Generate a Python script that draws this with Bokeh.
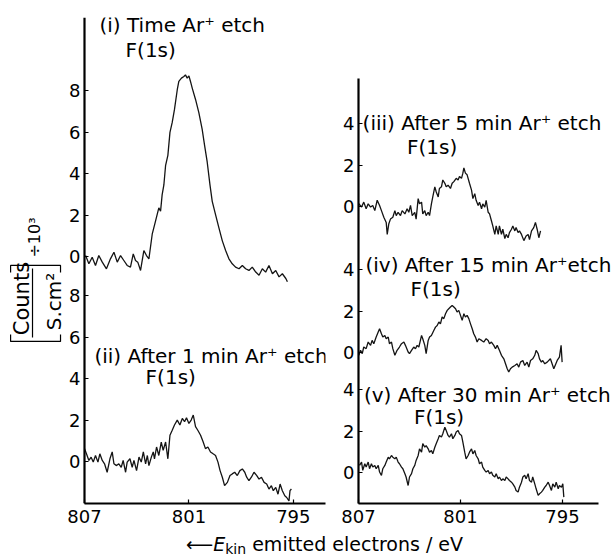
import math
from bokeh.plotting import figure
from bokeh.models import Range1d, FixedTicker, CustomJSTickFormatter, Label, Div
from bokeh.layouts import row, column
from bokeh.embed import file_html
from bokeh.resources import INLINE

FONT = "DejaVu Sans"

# ---------------- data ----------------
x_ticks = [807, 801, 795]
y_ticks_left = [0, 2, 4, 6, 8]
y_ticks_right = [0, 2, 4]

# stacking offsets of each spectrum (in counts units)
offset_i = 9.9
offset_ii = 0.0
offset_iii = 12.85
offset_iv = 5.8
offset_v = 0.0

# (i) Time Ar+ etch
i_ev = [806.94, 806.75, 806.56, 806.37, 806.18, 805.98, 805.74, 805.51, 805.31, 805.12,
        804.93, 804.74, 804.55, 804.36, 804.20, 804.07, 803.94, 803.78, 803.59, 803.44,
        803.30, 803.11, 802.92, 802.73, 802.63, 802.54, 802.44, 802.34, 802.21, 802.09,
        801.96, 801.83, 801.67, 801.58, 801.43, 801.29, 801.20, 801.10, 801.00, 800.91,
        800.81, 800.62, 800.43, 800.24, 800.10, 799.95, 799.79, 799.66, 799.47, 799.28,
        799.08, 798.89, 798.70, 798.51, 798.32, 798.12, 797.93, 797.74, 797.55, 797.36,
        797.16, 796.97, 796.78, 796.59, 796.40, 796.20, 796.01, 795.82, 795.63, 795.43,
        795.34]
i_val = [0.05, -0.35, -0.03, -0.43, 0.05, -0.27, -0.59, -0.11, 0.21, -0.27,
         0.05, -0.19, -0.43, -0.51, 0.13, -0.19, -0.27, -0.67, 0.29, 0.05,
         -0.11, 1.08, 1.71, 2.35, 2.19, 2.98, 3.46, 4.41, 4.89, 6.00,
         6.48, 7.11, 8.06, 8.46, 8.62, 8.70, 8.78, 8.62, 8.73, 8.46,
         8.14, 7.59, 6.95, 6.16, 5.37, 4.57, 3.46, 2.67, 2.03, 1.40,
         0.76, 0.29, -0.11, -0.35, -0.51, -0.59, -0.43, -0.59, -0.67, -0.51,
         -0.75, -0.90, -0.59, -0.75, -0.43, -0.83, -0.67, -0.98, -0.83, -1.06,
         -1.22]

# (ii) After 1 min Ar+ etch
ii_ev = [807.00, 806.89, 806.75, 806.62, 806.50, 806.37, 806.23, 806.12, 805.98, 805.85,
         805.70, 805.54, 805.41, 805.31, 805.16, 805.03, 804.89, 804.78, 804.64, 804.55,
         804.39, 804.26, 804.16, 804.01, 803.87, 803.74, 803.62, 803.49, 803.39, 803.30,
         803.16, 803.05, 802.98, 802.86, 802.73, 802.59, 802.48, 802.34, 802.21, 802.09,
         801.96, 801.83, 801.67, 801.52, 801.38, 801.25, 801.14, 801.00, 800.87, 800.75,
         800.62, 800.49, 800.33, 800.18, 800.05, 799.91, 799.76, 799.61, 799.47, 799.33,
         799.21, 799.08, 798.95, 798.79, 798.64, 798.51, 798.37, 798.22, 798.07, 797.93,
         797.79, 797.68, 797.55, 797.41, 797.26, 797.10, 796.97, 796.83, 796.68, 796.53,
         796.40, 796.26, 796.15, 796.01, 795.88, 795.76, 795.63, 795.49, 795.38, 795.25,
         795.19, 795.11]
ii_val = [0.62, 0.37, 0.05, 0.21, -0.03, 0.29, -0.03, 0.37, 0.05, -0.11,
          -0.52, 0.13, 0.46, -0.11, -0.20, -0.11, -0.28, 0.05, -0.52, -0.03,
          0.13, -0.28, 0.05, -0.44, 0.21, -0.03, 0.46, -0.11, 0.29, -0.20,
          0.21, 0.46, 0.13, 0.70, 0.29, 0.94, 0.54, 0.94, 0.13, 1.27,
          1.51, 1.76, 2.00, 1.76, 2.08, 1.92, 2.11, 1.84, 2.00, 2.24,
          1.68, 1.51, 1.27, 0.94, 0.62, 0.70, 0.46, 0.37, 0.29, -0.03,
          -0.44, -0.76, -1.17, -1.01, -0.68, -0.60, -0.52, -0.68, -0.44, -0.36,
          -0.52, -0.76, -0.93, -0.76, -0.52, -0.68, -0.85, -0.76, -1.01, -1.09,
          -1.33, -1.17, -1.41, -1.25, -1.58, -1.09, -1.41, -1.66, -1.74, -1.90,
          -1.41, -1.33]

# (iii) After 5 min Ar+ etch
iii_ev = [806.98, 806.82, 806.69, 806.55, 806.43, 806.29, 806.16, 806.04, 805.90, 805.76,
          805.65, 805.51, 805.37, 805.31, 805.22, 805.12, 804.98, 804.86, 804.78, 804.67,
          804.53, 804.43, 804.27, 804.14, 804.04, 803.94, 803.84, 803.69, 803.61, 803.49,
          803.41, 803.29, 803.22, 803.10, 803.02, 802.90, 802.82, 802.71, 802.63, 802.51,
          802.43, 802.31, 802.24, 802.12, 802.04, 801.92, 801.84, 801.73, 801.59, 801.49,
          801.39, 801.25, 801.14, 801.06, 800.94, 800.86, 800.80, 800.71, 800.61, 800.47,
          800.35, 800.27, 800.16, 800.08, 799.96, 799.88, 799.76, 799.69, 799.57, 799.49,
          799.37, 799.29, 799.18, 799.10, 798.98, 798.90, 798.78, 798.71, 798.59, 798.51,
          798.39, 798.31, 798.20, 798.12, 798.00, 797.92, 797.80, 797.73, 797.61, 797.53,
          797.41, 797.27, 797.14, 797.02, 796.94, 796.82, 796.69, 796.59, 796.49, 796.39,
          796.29]
iii_val = [0.13, -0.03, 0.21, -0.11, 0.13, -0.03, 0.05, -0.20, 0.30, 0.05,
           -0.20, -0.52, -0.77, -1.35, -0.85, -0.61, -0.52, -0.20, -0.44, -0.28,
           -0.44, -0.20, -0.36, -0.11, -0.28, 0.05, -0.44, -0.28, -0.61, 0.38,
           0.13, 0.21, -0.36, -0.20, -0.44, -0.28, -0.44, 0.13, 0.46, 0.95,
           0.71, 0.46, 0.87, 0.95, 1.28, 1.12, 0.95, 1.03, 0.87, 1.12,
           1.20, 1.36, 1.28, 1.45, 1.36, 1.61, 1.86, 1.61, 1.53, 1.12,
           0.79, 0.38, 0.62, 0.30, 0.05, 0.21, -0.11, 0.13, -0.03, 0.30,
           -0.28, -0.36, -0.69, -0.94, -1.35, -0.94, -1.35, -0.94, -1.35, -1.10,
           -1.55, -1.35, -1.51, -1.26, -1.10, -0.94, -1.18, -1.02, -1.26, -1.18,
           -1.35, -1.65, -1.43, -1.35, -1.60, -1.18, -1.02, -0.77, -1.10, -1.51,
           -1.18]

# (iv) After 15 min Ar+ etch
iv_ev = [806.98, 806.88, 806.78, 806.69, 806.55, 806.43, 806.29, 806.20, 806.10, 805.96,
         805.84, 805.76, 805.65, 805.57, 805.45, 805.37, 805.25, 805.18, 805.06, 804.98,
         804.86, 804.73, 804.59, 804.47, 804.33, 804.24, 804.08, 804.00, 803.88, 803.75,
         803.65, 803.55, 803.45, 803.29, 803.22, 803.10, 803.02, 802.90, 802.82, 802.71,
         802.57, 802.47, 802.37, 802.27, 802.18, 802.08, 801.98, 801.88, 801.78, 801.69,
         801.59, 801.49, 801.39, 801.29, 801.20, 801.10, 801.00, 800.90, 800.80, 800.71,
         800.61, 800.51, 800.41, 800.31, 800.22, 800.12, 800.02, 799.92, 799.76, 799.63,
         799.49, 799.37, 799.29, 799.18, 799.04, 798.94, 798.84, 798.71, 798.59, 798.45,
         798.35, 798.25, 798.16, 798.06, 797.96, 797.80, 797.67, 797.57, 797.47, 797.33,
         797.22, 797.08, 796.98, 796.88, 796.75, 796.63, 796.55, 796.43, 796.35, 796.24,
         796.16, 796.04, 795.90, 795.71, 795.51, 795.31, 795.18, 795.08, 795.02]
iv_val = [-0.14, 0.10, -0.06, 0.26, 0.18, 0.50, 0.34, 0.58, 0.42, 0.74,
          0.98, 1.14, 0.90, 0.74, 0.82, 0.66, 0.74, 0.42, 0.50, 0.18,
          -0.14, 0.10, 0.26, 0.42, 0.50, 0.34, 0.02, -0.06, 0.10, 0.26,
          0.18, 0.34, 0.26, 0.82, 0.66, 0.34, -0.06, 0.58, 0.74, 0.82,
          1.06, 1.22, 1.30, 1.47, 1.38, 1.71, 1.63, 1.87, 2.03, 2.11,
          2.19, 2.27, 2.19, 2.11, 1.95, 2.03, 1.79, 1.55, 1.87, 1.71,
          1.79, 1.63, 1.38, 1.14, 0.90, 0.74, 0.50, 0.66, 0.58, 0.50,
          0.66, 0.58, 0.42, 0.50, 0.34, 0.18, 0.34, 0.10, -0.14, -0.31,
          -0.55, -0.79, -0.95, -0.79, -0.71, -0.63, -0.55, -0.71, -0.47, -0.39,
          -0.63, -0.47, -0.71, -0.39, -0.31, -0.14, 0.10, -0.06, -0.31, -0.47,
          -0.39, -0.55, -0.47, -0.31, -0.79, -0.39, -0.23, 0.34, -0.47]

# (v) After 30 min Ar+ etch
v_ev = [806.94, 806.82, 806.75, 806.63, 806.55, 806.43, 806.35, 806.24, 806.16, 806.04,
        805.96, 805.84, 805.76, 805.65, 805.57, 805.45, 805.37, 805.25, 805.18, 805.06,
        804.98, 804.86, 804.78, 804.67, 804.59, 804.47, 804.39, 804.27, 804.20, 804.08,
        804.00, 803.88, 803.80, 803.69, 803.61, 803.49, 803.41, 803.29, 803.22, 803.10,
        803.02, 802.90, 802.82, 802.71, 802.63, 802.51, 802.43, 802.31, 802.24, 802.12,
        802.04, 801.92, 801.84, 801.73, 801.65, 801.53, 801.45, 801.33, 801.25, 801.14,
        801.06, 800.94, 800.86, 800.75, 800.67, 800.55, 800.47, 800.35, 800.27, 800.16,
        800.08, 799.96, 799.88, 799.76, 799.69, 799.57, 799.49, 799.37, 799.29, 799.18,
        799.10, 798.98, 798.90, 798.78, 798.71, 798.59, 798.51, 798.39, 798.31, 798.20,
        798.12, 798.00, 797.92, 797.80, 797.73, 797.61, 797.53, 797.41, 797.33, 797.22,
        797.14, 797.02, 796.94, 796.82, 796.75, 796.63, 796.55, 796.43, 796.35, 796.24,
        796.16, 796.04, 795.96, 795.84, 795.76, 795.65, 795.57, 795.45, 795.37, 795.25,
        795.18, 795.06, 794.98, 794.92]
v_val = [0.34, 0.50, 0.10, 0.42, 0.26, 0.50, 0.18, 0.42, 0.26, 0.34,
         0.18, 0.34, 0.02, -0.14, 0.18, 0.34, 0.50, 0.74, 0.66, 0.82,
         0.74, 0.66, 0.74, 0.50, 0.42, 0.26, 0.18, -0.06, -0.22, -0.63,
         -0.22, -0.06, 0.18, 0.34, 0.58, 0.82, 1.14, 0.98, 1.39, 1.22,
         1.30, 1.14, 0.98, 1.06, 0.90, 1.22, 1.39, 1.63, 1.79, 1.71,
         1.87, 2.19, 2.03, 1.79, 1.71, 1.87, 1.63, 1.79, 1.95, 2.03,
         1.87, 1.79, 1.47, 0.98, 0.66, 0.82, 0.98, 1.14, 0.90, 1.06,
         0.82, 0.66, 0.42, 0.50, 0.26, 0.10, 0.02, 0.10, -0.06, 0.02,
         -0.14, -0.22, -0.06, -0.31, -0.22, -0.39, -0.31, -0.39, -0.22, -0.31,
         -0.39, -0.47, -0.55, -0.71, -0.87, -0.95, -0.71, -0.47, -0.22, -0.14,
         -0.31, -0.06, -0.39, -0.47, -0.22, -0.55, -0.79, -1.11, -1.03, -0.95,
         -0.87, -0.71, -0.63, -0.47, -0.63, -0.87, -0.55, -0.71, -0.47, -0.79,
         -0.63, -0.71, -0.55, -1.19]

labels_left = ["(i) Time Ar\u207a etch", "(ii) After 1 min Ar\u207a etch"]
labels_right = ["(iii) After 5 min Ar\u207a etch", "(iv) After 15 min Ar\u207aetch",
                "(v) After 30 min Ar\u207a etch"]
peak_name = "F(1s)"

LINE_COLOR = "#141414"
TXT = "20px"
UP = 0.24      # small upward nudge of horizontal labels (counts units)
LEFTWARD = 0.29  # small leftward nudge of rotated labels (eV units)


def style(p):
    p.grid.visible = False
    p.outline_line_color = None
    p.background_fill_color = "white"
    p.border_fill_color = "white"
    for ax in (p.xaxis[0], p.yaxis[0]):
        ax.axis_line_width = 2.2
        ax.axis_line_color = "black"
        ax.major_tick_line_color = "black"
        ax.major_tick_line_width = 1.2
        ax.major_tick_in = 4
        ax.major_tick_out = 0
        ax.minor_tick_line_color = None
        ax.major_label_text_font = FONT
        ax.major_label_text_font_size = "18px"
        ax.major_label_text_color = "black"
    p.xaxis.major_label_standoff = 6
    p.yaxis.major_label_standoff = 4
    p.xaxis.ticker = FixedTicker(ticks=x_ticks)


def add_text(p, x, y, text, size=TXT, angle=0.0, align="left", baseline="alphabetic"):
    p.add_layout(Label(x=x, y=y, text=text, text_font=FONT, text_font_size=size,
                       text_color="black", angle=angle, text_align=align,
                       text_baseline=baseline))


# ---------------- left panel ----------------
left = figure(width=338, height=535, x_range=Range1d(811.83, 793.15),
              y_range=Range1d(-2.03, 21.45), output_backend="svg",
              toolbar_location=None, min_border_left=0, min_border_right=13,
              min_border_top=17, min_border_bottom=32)
style(left)
left.yaxis.fixed_location = 807
left.xaxis.bounds = (793.15, 807)
left.yaxis.ticker = FixedTicker(ticks=[t + offset_ii for t in y_ticks_left] +
                                [t + offset_i for t in y_ticks_left])
left.yaxis.formatter = CustomJSTickFormatter(args=dict(off=offset_i), code="""
    const v = tick > off - 0.5 ? tick - off : tick;
    return Math.round(v).toString();
""")
left.line(i_ev, [v + offset_i for v in i_val], line_color=LINE_COLOR, line_width=1.3)
left.line(ii_ev, [v + offset_ii for v in ii_val], line_color=LINE_COLOR, line_width=1.3)

add_text(left, 806.14, 20.86 + UP, labels_left[0])
add_text(left, 804.64, 19.66 + UP, peak_name)
add_text(left, 806.43, 4.88 + UP, labels_left[1])
add_text(left, 803.49, 3.82 + UP, peak_name)

# y label: [Counts / S.cm^2] ÷ 10^3 (rotated)
add_text(left, 810.33 + LEFTWARD, 7.87, "Counts", size="21px", angle=math.pi / 2, align="center")
add_text(left, 808.49 + LEFTWARD, 7.73, "S.cm\u00b2", size="20px", angle=math.pi / 2, align="center")
add_text(left, 809.59 + LEFTWARD, 10.82, "\u00f710\u00b3", size="16px", angle=math.pi / 2, align="center")
left.multi_line(
    xs=[[809.99, 809.99],
        [811.25, 811.25, 808.38, 808.38],
        [811.25, 811.25, 808.38, 808.38]],
    ys=[[9.32, 5.99],
        [9.13, 9.47, 9.47, 9.13],
        [6.14, 5.80, 5.80, 6.14]],
    line_color="black", line_width=1.2)

# ---------------- right panel ----------------
right = figure(width=277, height=535, x_range=Range1d(807, 791.88),
               y_range=Range1d(-1.50, 21.98), output_backend="svg",
               toolbar_location=None, min_border_left=20, min_border_right=0,
               min_border_top=17, min_border_bottom=32)
style(right)
right.xaxis.bounds = (792.88, 807)
right.yaxis.bounds = (-1.50, 19.03)
right.yaxis.ticker = FixedTicker(ticks=[t + offset_v for t in y_ticks_right] +
                                 [t + offset_iv for t in y_ticks_right] +
                                 [t + offset_iii for t in y_ticks_right])
right.yaxis.formatter = CustomJSTickFormatter(
    args=dict(o3=offset_iii, o4=offset_iv), code="""
    let v = tick;
    if (tick > o3 - 0.5) { v = tick - o3; } else if (tick > o4 - 0.5) { v = tick - o4; }
    return Math.round(v).toString();
""")
right.line(iii_ev, [v + offset_iii for v in iii_val], line_color=LINE_COLOR, line_width=1.3)
right.line(iv_ev, [v + offset_iv for v in iv_val], line_color=LINE_COLOR, line_width=1.3)
right.line(v_ev, [v + offset_v for v in v_val], line_color=LINE_COLOR, line_width=1.3)

add_text(right, 806.76, 16.63 + UP, labels_right[0])
add_text(right, 804.15, 15.47 + UP, peak_name)
add_text(right, 806.59, 9.79 + UP, labels_right[1])
add_text(right, 803.94, 8.63 + UP, peak_name)
add_text(right, 806.68, 3.48 + UP, labels_right[2])
add_text(right, 803.74, 2.43 + UP, peak_name)

xlabel = Div(
    text=('<div style="font-family:\'DejaVu Sans\';font-size:19px;line-height:19px;'
          'padding-left:186px;white-space:nowrap;color:black;">'
          '\u27f5<i>E</i><sub style="font-size:14px;vertical-align:-3px;line-height:0;">kin</sub>'
          ' emitted electrons / eV</div>'),
    width=615, height=23, margin=0)

layout = column(row(left, right), xlabel)

with open("out.html", "w") as f:
    f.write(file_html(layout, INLINE))
